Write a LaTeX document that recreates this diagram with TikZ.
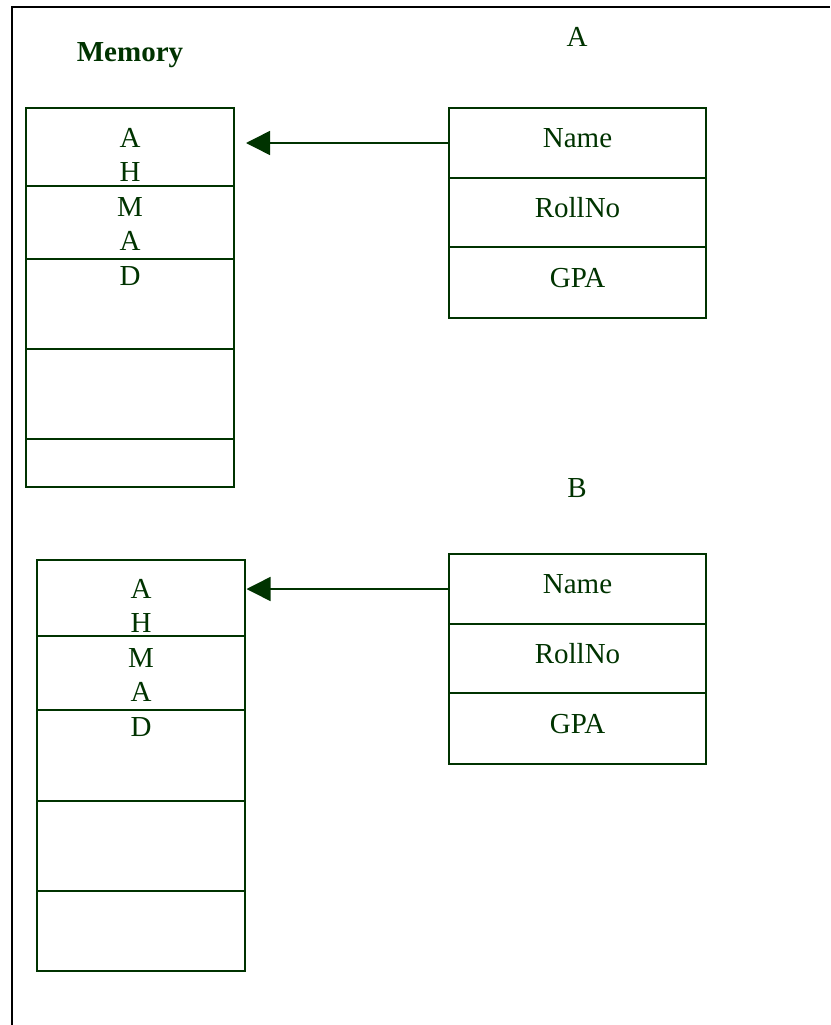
\documentclass[tikz,border=0pt]{standalone}
\usepackage{fontspec}
\setmainfont{Liberation Serif}
\usetikzlibrary{arrows.meta}
\definecolor{dg}{HTML}{003300}
\begin{document}
\begin{tikzpicture}[x=1pt,y=-1pt,
  cell/.style={draw=dg, line width=1.5pt, inner sep=0pt, outer sep=0pt},
  memcell/.style={cell, minimum width=208pt},
  stcell/.style={cell, minimum width=257pt},
  txt/.style={text=dg, font=\fontsize{29}{34}\selectfont, inner sep=0pt, anchor=base},
  ptr/.style={draw=dg, line width=1.5pt, -{Triangle[length=24pt,width=24pt]}}]
\useasboundingbox (0,0) rectangle (830,1025);
\coordinate (fb) at (12,1025);
\coordinate (fc) at (12,7);
\coordinate (fr) at (830,7);
\draw[line width=2pt, line join=miter] (fb) -- (fc) -- (fr);

% labels
\node[txt, font=\bfseries\fontsize{29}{34}\selectfont] (memlbl) at (130,62) {Memory};
\node[txt] (albl) at (577,47) {A};
\node[txt] (blbl) at (577,497) {B};

% memory block 1
\node[memcell, minimum height=78pt] (m1a) at (130,147) {};
\node[memcell, minimum height=73pt] (m1b) at (130,222.5) {};
\node[memcell, minimum height=90pt] (m1c) at (130,304) {};
\node[memcell, minimum height=90pt] (m1d) at (130,394) {};
\node[memcell, minimum height=48pt] (m1e) at (130,463) {};
\node[txt] (t1a) at (130,147) {A};
\node[txt] (t1b) at (130,181.5) {H};
\node[txt] (t1c) at (130,216) {M};
\node[txt] (t1d) at (130,250.5) {A};
\node[txt] (t1e) at (130,285) {D};

% memory block 2
\node[memcell, minimum height=76pt] (m2a) at (141,598) {};
\node[memcell, minimum height=74pt] (m2b) at (141,673) {};
\node[memcell, minimum height=91pt] (m2c) at (141,755.5) {};
\node[memcell, minimum height=90pt] (m2d) at (141,846) {};
\node[memcell, minimum height=80pt] (m2e) at (141,931) {};
\node[txt] (t2a) at (141,598) {A};
\node[txt] (t2b) at (141,632.5) {H};
\node[txt] (t2c) at (141,667) {M};
\node[txt] (t2d) at (141,701.5) {A};
\node[txt] (t2e) at (141,736) {D};

% struct A
\node[stcell, minimum height=70pt] (sA1) at (577.5,143) {};
\node[stcell, minimum height=69pt] (sA2) at (577.5,212.5) {};
\node[stcell, minimum height=71pt] (sA3) at (577.5,282.5) {};
\node[txt] (nA1) at (577.5,147) {Name};
\node[txt] (nA2) at (577.5,217) {RollNo};
\node[txt] (nA3) at (577.5,287) {GPA};

% struct B
\node[stcell, minimum height=70pt] (sB1) at (577.5,589) {};
\node[stcell, minimum height=69pt] (sB2) at (577.5,658.5) {};
\node[stcell, minimum height=71pt] (sB3) at (577.5,728.5) {};
\node[txt] (nB1) at (577.5,593) {Name};
\node[txt] (nB2) at (577.5,663) {RollNo};
\node[txt] (nB3) at (577.5,733) {GPA};

% pointers
\draw[ptr, shorten >=12pt] (sA1.west) -- (sA1.west -| m1a.east);
\draw[ptr, shorten >=1.5pt] (sB1.west) -- (sB1.west -| m2a.east);
\end{tikzpicture}
\end{document}
